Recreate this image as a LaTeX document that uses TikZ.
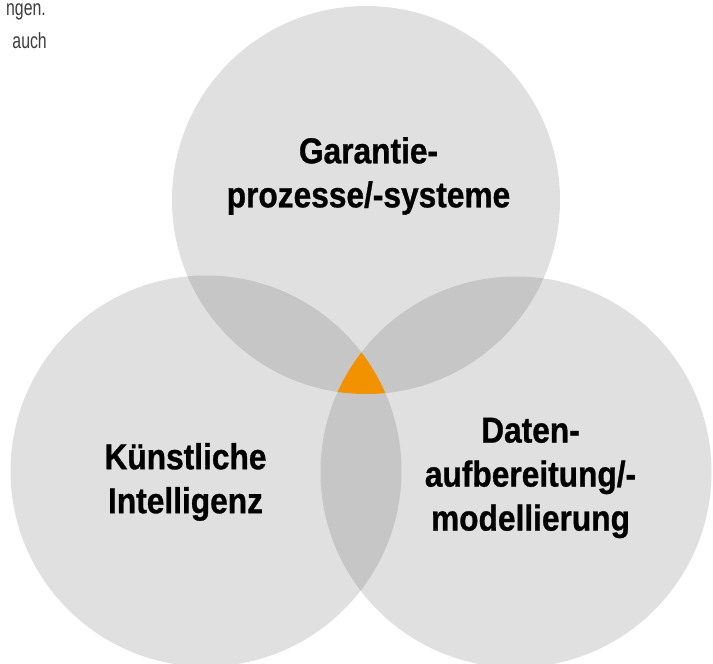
\documentclass[tikz,border=0pt]{standalone}
\usepackage{fontspec}
\setmainfont{Liberation Sans}
\newfontfamily\labelfont{Liberation Sans Bold}[FakeStretch=0.88,FakeBold=0.8]
\newfontfamily\notefont{Liberation Sans}[FakeStretch=0.72]
\definecolor{disc}{HTML}{E0E0E0}
\definecolor{pair}{HTML}{C6C6C6}
\definecolor{core}{HTML}{F39200}
\definecolor{notegray}{HTML}{3C3C3C}
\begin{document}
\begin{tikzpicture}[x=1pt,y=-1pt,
  label/.style={align=center,inner sep=0pt,text=black,
    font=\labelfont\fontsize{36}{44}\selectfont},
  note/.style={inner sep=0pt,text=notegray,
    font=\notefont\fontsize{22}{26}\selectfont}]
\useasboundingbox (0,0) rectangle (713,664);
\clip (0,0) rectangle (713,664);

% circle geometry
\def\cTop{(366,200) circle[radius=194]}
\def\cLeft{(206,471) circle[radius=195.5]}
\def\cRight{(516,472) circle[radius=195.5]}

% the three discs
\fill[disc] \cTop;
\fill[disc] \cLeft;
\fill[disc] \cRight;

% pairwise overlaps
\begin{scope}
  \clip \cTop;
  \fill[pair] \cLeft;
  \fill[pair] \cRight;
\end{scope}
\begin{scope}
  \clip \cLeft;
  \fill[pair] \cRight;
\end{scope}

% common core of all three
\begin{scope}
  \clip \cTop;
  \clip \cLeft;
  \fill[core] \cRight;
\end{scope}

% labels
\node[label] (garantie) at (368.5,176) {Garantie-\\prozesse/-systeme};
\node[label] (ki) at (185.5,482) {Künstliche\\Intelligenz};
\node[label] (daten) at (530.5,478) {Daten-\\aufbereitung/-\\modellierung};

% running text at the top left
\node[note,anchor=base east] (note1) at (46,15) {ngen.};
\node[note,anchor=base east] (note2) at (47,48) {auch};
\end{tikzpicture}
\end{document}
